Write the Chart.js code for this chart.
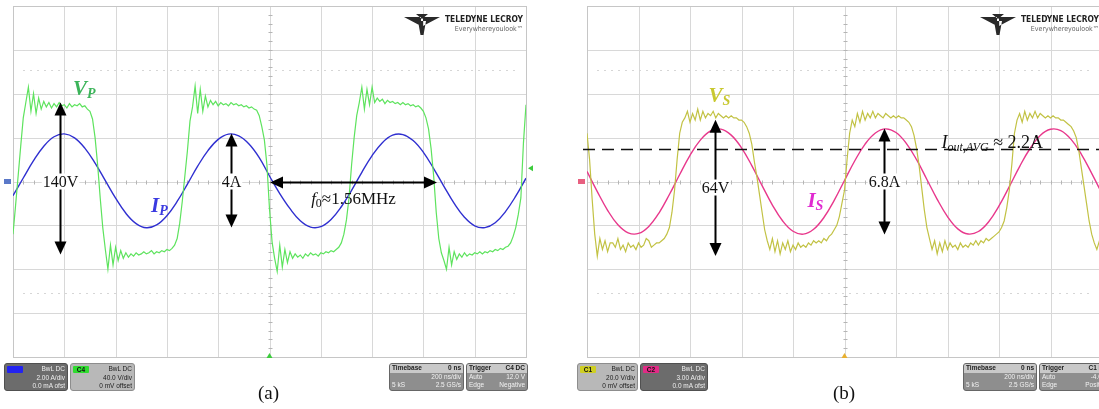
<!DOCTYPE html>
<html>
<head>
<meta charset="utf-8">
<title>Scope waveforms</title>
<script src="https://cdn.jsdelivr.net/npm/chart.js@4.4.1/dist/chart.umd.min.js"></script>
<style>
  html, body { margin: 0; padding: 0; background: #fff; width: 1099px; height: 409px; overflow: hidden; }
  canvas { position: absolute; top: 0; }
  #scopeA { left: 0; }
  #scopeB { left: 550px; }
  .box { position: absolute; top: 363px; height: 28px; box-sizing: border-box; border-radius: 3px;
         font: 6.5px "Liberation Sans", Arial, sans-serif; line-height: 8.5px; padding: 1px 2px; overflow: hidden; }
  .light { background: #b8b8b8; color: #222; border: 1px solid #8d8d8d; }
  .dark { background: #6c6c6c; color: #eee; border: 1px solid #505050; }
  .info { background: #8e8e8e; color: #f2f2f2; border: 1px solid #666; padding: 0; }
  .info .hd { background: #c9c9c9; color: #222; font-weight: bold; padding: 0 2px; }
  .info .rw { padding: 0 2px; }
  .row { display: flex; justify-content: space-between; white-space: nowrap; }
  .sw { display: inline-block; width: 16px; height: 7px; margin-top: 1px; font-weight: bold; text-align: center; line-height: 7px; color: #111; border-radius: 1px; }
  .r { text-align: right; white-space: nowrap; }
  .cap { position: absolute; top: 382px; font: 19px "Liberation Serif", "Times New Roman", serif; color: #111; }
</style>
</head>
<body>
<canvas id="scopeA" width="549" height="409"></canvas>
<canvas id="scopeB" width="560" height="409"></canvas>

<!-- channel / timebase readouts, panel (a) -->
<div class="box dark" style="left:4px;width:64px">
  <div class="row"><span class="sw" style="background:#2323f0"></span><span>BwL DC</span></div>
  <div class="r">2.00 A/div</div>
  <div class="r">0.0 mA ofst</div>
</div>
<div class="box light" style="left:70px;width:65px">
  <div class="row"><span class="sw" style="background:#2fdc2f">C4</span><span>BwL DC</span></div>
  <div class="r">40.0 V/div</div>
  <div class="r">0 mV offset</div>
</div>
<div class="box info" style="left:389px;width:75px">
  <div class="row hd"><span>Timebase</span><span>0 ns</span></div>
  <div class="r rw">200 ns/div</div>
  <div class="row rw"><span>5 kS</span><span>2.5 GS/s</span></div>
</div>
<div class="box info" style="left:466px;width:62px">
  <div class="row hd"><span>Trigger</span><span>C4 DC</span></div>
  <div class="row rw"><span>Auto</span><span>12.0 V</span></div>
  <div class="row rw"><span>Edge</span><span>Negative</span></div>
</div>
<div class="cap" style="left:258px">(a)</div>

<!-- channel / timebase readouts, panel (b) -->
<div class="box light" style="left:577px;width:61px">
  <div class="row"><span class="sw" style="background:#cfcf22">C1</span><span>BwL DC</span></div>
  <div class="r">20.0 V/div</div>
  <div class="r">0 mV offset</div>
</div>
<div class="box dark" style="left:640px;width:68px">
  <div class="row"><span class="sw" style="background:#e22a86">C2</span><span>BwL DC</span></div>
  <div class="r">3.00 A/div</div>
  <div class="r">0.0 mA ofst</div>
</div>
<div class="box info" style="left:963px;width:74px">
  <div class="row hd"><span>Timebase</span><span>0 ns</span></div>
  <div class="r rw">200 ns/div</div>
  <div class="row rw"><span>5 kS</span><span>2.5 GS/s</span></div>
</div>
<div class="box info" style="left:1039px;width:72px">
  <div class="row hd"><span>Trigger</span><span>C1 DC</span></div>
  <div class="row rw"><span>Auto</span><span>-4.0 V</span></div>
  <div class="row rw"><span>Edge</span><span>Positive</span></div>
</div>
<div class="cap" style="left:833px">(b)</div>

<script>
// screen spans -1000..1000 ns (200 ns/div, 10 div)
const timeStart = -1000;
const timeEnd = 1000;
const voltStep = 10;   // ns between voltage samples
const ampStep = 40;    // ns between current samples

// (a) primary side, 40 V/div and 2 A/div
const vpVolts = [
  -48, -22, 5, 32, 58, 72, 86, 64, 80, 62,
  76, 66, 73, 68, 72, 67, 71, 68, 72, 69,
  70, 67, 71, 68, 70, 69, 71, 68, 69, 66,
  64, 57, 40, 15, -15, -42, -62, -80, -58, -76,
  -60, -72, -63, -70, -65, -69, -66, -68, -65, -67,
  -66, -64, -66, -65, -63, -66, -64, -65, -63, -64,
  -62, -63, -61, -58, -52, -38, -18, 5, 28, 55,
  68, 87, 62, 84, 64, 78, 68, 74, 70, 73,
  69, 72, 70, 71, 69, 72, 70, 71, 69, 70,
  68, 69, 67, 68, 66, 65, 60, 50, 38, 15,
  -25, -55, -70, -82, -58, -78, -62, -74, -64, -70,
  -66, -69, -67, -70, -66, -68, -65, -67, -66, -68,
  -65, -66, -64, -65, -63, -64, -62, -60, -56, -48,
  -35, -15, 15, 40, 60, 72, 86, 66, 84, 70,
  86, 72, 76, 73, 75, 71, 74, 72, 73, 71,
  72, 70, 72, 70, 71, 69, 70, 68, 69, 67,
  64, 58, 48, 30, 5, -28, -52, -65, -72, -80,
  -60, -76, -64, -71, -66, -69, -65, -68, -66, -67,
  -65, -66, -64, -66, -64, -65, -63, -64, -62, -63,
  -61, -62, -60, -59, -56, -50, -42, -30, -15, 35,
  70
];
const ipAmps = [
  -0.65, 0.16, 0.95, 1.61, 2.04, 2.17, 1.99, 1.52, 0.84, 0.04,
  -0.76, -1.45, -1.92, -2.11, -1.98, -1.56, -0.91, -0.12, 0.70, 1.41,
  1.92, 2.16, 2.08, 1.71, 1.09, 0.25, -0.55, -1.24, -1.79, -2.08,
  -2.06, -1.73, -1.15, -0.40, 0.42, 1.18, 1.77, 2.11, 2.14, 1.87,
  1.33, 0.59, -0.22, -1.00, -1.63, -2.02, -2.10, -1.88, -1.37, -0.67,
  0.15
];

// (b) secondary side, 20 V/div and 3 A/div
const vsVolts = [
  22, 10, -8, -24, -34, -26, -31, -27, -32, -28,
  -28, -30, -26, -31, -29, -32, -28, -30, -29, -31,
  -28, -30, -29, -26, -27, -30, -29, -28, -28, -27,
  -26, -24, -21, -14, -4, 10, 22, 27, 29, 32,
  27, 31, 28, 33, 28, 32, 29, 31, 30, 32,
  29, 31, 30, 29, 30, 29, 30, 29, 29, 28,
  28, 27, 25, 22, 17, 9, 2, -6, -14, -22,
  -27, -31, -26, -32, -27, -33, -28, -31, -27, -32,
  -29, -31, -28, -30, -29, -30, -28, -29, -27, -28,
  -27, -28, -26, -27, -25, -24, -22, -20, -16, -10,
  -4, 10, 22, 28, 25, 31, 27, 32, 28, 31,
  29, 32, 29, 31, 30, 29, 31, 30, 29, 30,
  29, 30, 29, 29, 28, 27, 25, 21, 15, 7,
  -3, -13, -21, -26, -31, -27, -33, -28, -32, -27,
  -31, -28, -30, -29, -31, -28, -30, -29, -30, -28,
  -29, -27, -29, -27, -28, -26, -27, -26, -25, -24,
  -23, -21, -18, -12, -4, 8, 22, 28, 31, 27,
  32, 28, 31, 29, 32, 29, 31, 30, 29, 30,
  29, 30, 29, 29, 28, 28, 27, 26, 25, 23,
  20, 14, 6, -2, -10, -18, -24, -28, -31, -27,
  -30
];
const isAmps = [
  0.69, -0.69, -1.97, -2.96, -3.51, -3.55, -3.07, -2.14, -0.89, 0.48,
  1.79, 2.83, 3.46, 3.58, 3.17, 2.30, 1.09, -0.28, -1.61, -2.70,
  -3.40, -3.60, -3.27, -2.46, -1.29, 0.07, 1.42, 2.56, 3.32, 3.60,
  3.35, 2.61, 1.49, 0.14, -1.22, -2.40, -3.24, -3.59, -3.42, -2.75,
  -1.67, -0.35, 1.02, 2.24, 3.14, 3.57, 3.48, 2.88, 1.86, 0.56,
  -0.82
];
const ioutAvg = 2.2;

function toPoints(values, step) {
  return values.map((v, i) => ({ x: timeStart + i * step, y: v }));
}

const serif = '"Liberation Serif", "Times New Roman", serif';

// draws text made of pieces (main text + subscripts)
function richText(ctx, parts, x, y, align) {
  let w = 0;
  parts.forEach(p => { ctx.font = p.font; w += ctx.measureText(p.t).width; });
  let cx = align === 'center' ? x - w / 2 : x;
  parts.forEach(p => {
    ctx.font = p.font;
    ctx.fillText(p.t, cx, y + (p.dy || 0));
    cx += ctx.measureText(p.t).width;
  });
}

function head(ctx, x, y, dx, dy) {
  // filled arrow head, tip at x,y pointing along dx,dy
  const len = 13, half = 6;
  const bx = x - dx * len, by = y - dy * len;
  ctx.beginPath();
  ctx.moveTo(x, y);
  ctx.lineTo(bx - dy * half, by + dx * half);
  ctx.lineTo(bx + dy * half, by - dx * half);
  ctx.closePath();
  ctx.fill();
}

// oscilloscope graticule
const scopeGrid = {
  id: 'scopeGrid',
  beforeDatasetsDraw(chart) {
    const { ctx, chartArea: a } = chart;
    const xs = chart.scales.x, ys = chart.scales.yV;
    const divX = (xs.max - xs.min) / 10, divY = (ys.max - ys.min) / 8;
    ctx.save();
    ctx.lineWidth = 1;
    ctx.strokeStyle = '#d8d8d8';
    ctx.beginPath();
    for (let k = 0; k <= 10; k++) {
      const px = Math.round(xs.getPixelForValue(xs.min + k * divX)) + 0.5;
      ctx.moveTo(px, a.top); ctx.lineTo(px, a.bottom);
    }
    for (let k = 0; k <= 8; k++) {
      const py = Math.round(ys.getPixelForValue(ys.min + k * divY)) + 0.5;
      ctx.moveTo(a.left, py); ctx.lineTo(a.right, py);
    }
    ctx.stroke();

    // faint dotted guides
    const cy = ys.getPixelForValue(0);
    const dyPx = ys.getPixelForValue(0) - ys.getPixelForValue(divY);
    ctx.strokeStyle = '#d6d6d6';
    ctx.setLineDash([2, 5]);
    ctx.beginPath();
    [-2.55, 2.55].forEach(d => {
      const py = Math.round(cy - d * dyPx) + 0.5;
      ctx.moveTo(a.left + 10, py); ctx.lineTo(a.right - 10, py);
    });
    ctx.stroke();
    ctx.setLineDash([]);

    // minor ticks on the centre axes
    const cx = Math.round(xs.getPixelForValue(0)) + 0.5;
    const cyr = Math.round(cy) + 0.5;
    ctx.strokeStyle = '#b5b5b5';
    ctx.beginPath();
    for (let k = 0; k <= 50; k++) {
      const px = Math.round(xs.getPixelForValue(xs.min + k * divX / 5)) + 0.5;
      ctx.moveTo(px, cyr - 2); ctx.lineTo(px, cyr + 2);
    }
    for (let k = 0; k <= 40; k++) {
      const py = Math.round(ys.getPixelForValue(ys.min + k * divY / 5)) + 0.5;
      ctx.moveTo(cx - 2, py); ctx.lineTo(cx + 2, py);
    }
    ctx.stroke();
    ctx.strokeStyle = '#c6c6c6';
    ctx.strokeRect(Math.round(a.left) + 0.5, Math.round(a.top) + 0.5, Math.round(a.right - a.left), Math.round(a.bottom - a.top));
    ctx.restore();
  }
};

// arrows, labels, markers and logo
const scopeNotes = {
  id: 'scopeNotes',
  afterDatasetsDraw(chart, args, o) {
    const { ctx, chartArea: a, scales } = chart;
    const xs = scales.x;
    ctx.save();

    (o.dashed || []).forEach(d => {
      const py = Math.round(scales[d.axis].getPixelForValue(d.v)) + 0.5;
      ctx.strokeStyle = '#111';
      ctx.lineWidth = 1.6;
      ctx.setLineDash([12, 7]);
      ctx.beginPath();
      ctx.moveTo(a.left - 4, py); ctx.lineTo(chart.width, py);
      ctx.stroke();
      ctx.setLineDash([]);
    });

    ctx.fillStyle = '#000';
    ctx.strokeStyle = '#000';
    (o.vArrows || []).forEach(ar => {
      const ys = scales[ar.axis];
      const px = Math.round(xs.getPixelForValue(ar.t)) + 0.5;
      const y1 = ys.getPixelForValue(ar.top), y2 = ys.getPixelForValue(ar.bottom);
      ctx.lineWidth = 2;
      ctx.beginPath();
      ctx.moveTo(px, y1 + 10); ctx.lineTo(px, y2 - 10);
      ctx.stroke();
      ctx.fillStyle = '#000';
      head(ctx, px, y1, 0, -1);
      head(ctx, px, y2, 0, 1);
      const ly = ys.getPixelForValue(0) + (ar.dy || 0);
      ctx.font = '16px ' + serif;
      const w = ctx.measureText(ar.label).width;
      ctx.fillStyle = '#fff';
      ctx.fillRect(px - w / 2 - 1, ly - 8, w + 2, 16);
      ctx.fillStyle = '#111';
      ctx.textAlign = 'center';
      ctx.textBaseline = 'middle';
      ctx.fillText(ar.label, px, ly + 1);
      ctx.textAlign = 'left';
      ctx.textBaseline = 'alphabetic';
    });

    (o.hArrows || []).forEach(ar => {
      const ys = scales[ar.axis];
      const py = Math.round(ys.getPixelForValue(ar.v)) + 0.5;
      const x1 = xs.getPixelForValue(ar.from), x2 = xs.getPixelForValue(ar.to);
      ctx.fillStyle = '#000';
      ctx.lineWidth = 2;
      ctx.beginPath();
      ctx.moveTo(x1 + 10, py); ctx.lineTo(x2 - 10, py);
      ctx.stroke();
      head(ctx, x1, py, -1, 0);
      head(ctx, x2, py, 1, 0);
      ctx.fillStyle = '#111';
      richText(ctx, ar.parts, (x1 + x2) / 2, py + 21, 'center');
    });

    (o.labels || []).forEach(l => {
      const px = xs.getPixelForValue(l.t), py = scales[l.axis].getPixelForValue(l.v);
      ctx.fillStyle = l.color;
      richText(ctx, l.parts, px, py, 'left');
    });

    // channel zero markers, trigger markers
    const cy = Math.round(scales.yV.getPixelForValue(0));
    ctx.fillStyle = o.zeroColor;
    ctx.fillRect(a.left - 9, cy - 3, 7, 5);
    const tx = xs.getPixelForValue(0);
    ctx.fillStyle = o.trigColor;
    ctx.beginPath();
    ctx.moveTo(tx, a.bottom - 4); ctx.lineTo(tx - 3, a.bottom + 1); ctx.lineTo(tx + 3, a.bottom + 1);
    ctx.closePath(); ctx.fill();
    if (o.trigLevel !== undefined) {
      const ty = scales.yV.getPixelForValue(o.trigLevel);
      ctx.beginPath();
      ctx.moveTo(a.right + 2, ty); ctx.lineTo(a.right + 7, ty - 3); ctx.lineTo(a.right + 7, ty + 3);
      ctx.closePath(); ctx.fill();
    }

    // maker logo
    const rx = Math.min(a.right, chart.width) - 3;
    ctx.fillStyle = '#222';
    ctx.textAlign = 'right';
    ctx.font = 'bold 9px "DejaVu Sans Condensed", "Liberation Sans Narrow", sans-serif';
    ctx.fillText('TELEDYNE LECROY', rx, a.top + 16, 78);
    ctx.fillStyle = '#666';
    ctx.font = '7px "DejaVu Sans Condensed", "Liberation Sans", sans-serif';
    ctx.fillText('Everywhereyoulook\u2122', rx, a.top + 25, 75);
    ctx.textAlign = 'left';
    const ix = rx - 119, iy = a.top + 8;
    ctx.fillStyle = '#2a2a2a';
    ctx.beginPath();
    ctx.moveTo(ix, iy + 3); ctx.lineTo(ix + 17, iy + 3); ctx.lineTo(ix + 17, iy + 12); ctx.closePath();
    ctx.moveTo(ix + 36, iy + 3); ctx.lineTo(ix + 19, iy + 3); ctx.lineTo(ix + 19, iy + 12); ctx.closePath();
    ctx.moveTo(ix + 14, iy + 7); ctx.lineTo(ix + 22, iy + 7); ctx.lineTo(ix + 19.5, iy + 21); ctx.lineTo(ix + 16.5, iy + 21); ctx.closePath();
    ctx.moveTo(ix + 12, iy); ctx.lineTo(ix + 18, iy + 5); ctx.lineTo(ix + 24, iy); ctx.closePath();
    ctx.fill();
    ctx.restore();
  }
};

function makeScope(id, cfg) {
  return new Chart(document.getElementById(id), {
    type: 'line',
    data: {
      datasets: [
        { label: cfg.vName, data: toPoints(cfg.volts, voltStep), yAxisID: 'yV',
          borderColor: cfg.vColor, borderWidth: 1.2, pointRadius: 0, tension: 0 },
        { label: cfg.iName, data: toPoints(cfg.amps, ampStep), yAxisID: 'yI',
          borderColor: cfg.iColor, borderWidth: 1.4, pointRadius: 0, tension: 0.4 }
      ]
    },
    options: {
      responsive: false,
      animation: false,
      events: [],
      layout: { padding: cfg.padding },
      scales: {
        x: { type: 'linear', min: timeStart, max: timeEnd, display: false },
        yV: { type: 'linear', min: -4 * cfg.vDiv, max: 4 * cfg.vDiv, display: false },
        yI: { type: 'linear', min: -4 * cfg.iDiv, max: 4 * cfg.iDiv, display: false }
      },
      plugins: {
        legend: { display: false },
        tooltip: { enabled: false },
        scopeNotes: cfg.notes
      }
    },
    plugins: [scopeGrid, scopeNotes]
  });
}

const big = 'bold italic 21px ' + serif, sub = 'bold italic 14px ' + serif;

makeScope('scopeA', {
  volts: vpVolts, amps: ipAmps, vName: 'VP', iName: 'IP',
  vColor: '#5ee35e', iColor: '#2f2fd0', vDiv: 40, iDiv: 2,
  padding: { left: 13, top: 6, right: 23, bottom: 52 },
  notes: {
    zeroColor: '#5a78c8', trigColor: '#3ccc3c', trigLevel: 12,
    vArrows: [
      { axis: 'yV', t: -817, top: 72, bottom: -66.5, label: '140V' },
      { axis: 'yI', t: -150, top: 2.19, bottom: -2.1, label: '4A' }
    ],
    hArrows: [
      { axis: 'yI', v: 0, from: 2, to: 653, parts: [
        { t: 'f', font: 'italic 17px ' + serif },
        { t: '0', font: '12px ' + serif, dy: 3 },
        { t: '\u22481.56MHz', font: '17px ' + serif }
      ] }
    ],
    labels: [
      { axis: 'yV', t: -766, v: 79, color: '#3cb45a', parts: [{ t: 'V', font: big }, { t: 'P', font: sub, dy: 3 }] },
      { axis: 'yI', t: -462, v: -1.37, color: '#3a3ae0', parts: [{ t: 'I', font: big }, { t: 'P', font: sub, dy: 3 }] }
    ]
  }
});

makeScope('scopeB', {
  volts: vsVolts, amps: isAmps, vName: 'VS', iName: 'IS',
  vColor: '#c2c244', iColor: '#e8388c', vDiv: 20, iDiv: 3,
  padding: { left: 37, top: 6, right: 8, bottom: 52 },
  notes: {
    zeroColor: '#e86080', trigColor: '#e8b030',
    dashed: [{ axis: 'yI', v: ioutAvg }],
    vArrows: [
      { axis: 'yV', t: -501, top: 28.2, bottom: -34, label: '64V', dy: 6 },
      { axis: 'yI', t: 155, top: 3.62, bottom: -3.62, label: '6.8A' }
    ],
    labels: [
      { axis: 'yV', t: -528, v: 36.4, color: '#c8c830', parts: [{ t: 'V', font: big }, { t: 'S', font: sub, dy: 3 }] },
      { axis: 'yI', t: -144, v: -1.71, color: '#e02ad0', parts: [{ t: 'I', font: big }, { t: 'S', font: sub, dy: 3 }] },
      { axis: 'yI', t: 377, v: 2.32, color: '#111', parts: [
        { t: 'I', font: 'italic 18px ' + serif },
        { t: 'out,AVG', font: 'italic 12px ' + serif, dy: 3 },
        { t: ' \u2248 2.2A', font: '18px ' + serif }
      ] }
    ]
  }
});
</script>
</body>
</html>
